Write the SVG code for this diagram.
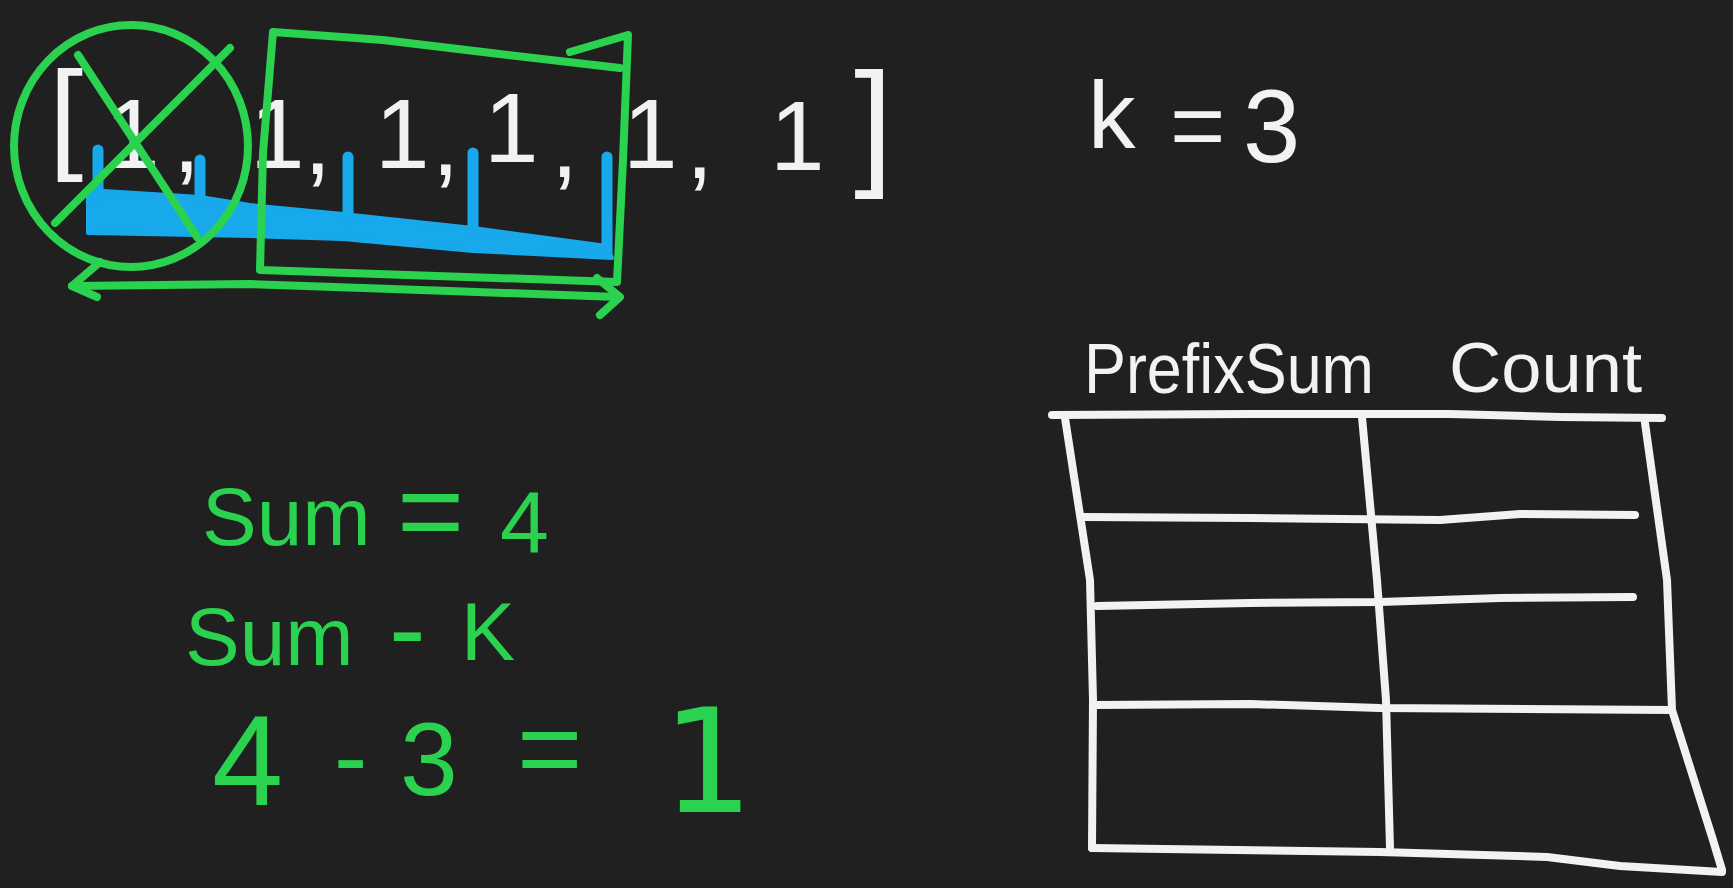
<svg xmlns="http://www.w3.org/2000/svg" width="1733" height="888" viewBox="0 0 1733 888">
<style>
.bg{fill:#202020}
.w{fill:none;stroke:#f2f2f2;stroke-width:8;stroke-linecap:round;stroke-linejoin:round}
.g{fill:none;stroke:#2bd24f;stroke-width:8;stroke-linecap:round;stroke-linejoin:round}
.b{fill:none;stroke:#18a8ec;stroke-width:11;stroke-linecap:round;stroke-linejoin:round}
.bf{fill:#18a8ec;stroke:#18a8ec;stroke-width:4;stroke-linejoin:round}
.wt{fill:#f2f2f2;font-family:"Liberation Sans",Arial,sans-serif}
.gt{fill:#2bd24f;font-family:"Liberation Sans",Arial,sans-serif}
</style>
<rect class="bg" x="0" y="0" width="1733" height="888"/>

<g id="array">
<text class="wt" font-size="98"><tspan x="49" y="157" font-size="123">[</tspan><tspan x="105" y="168">1</tspan><tspan x="173" y="172">,</tspan><tspan x="250" y="168">1</tspan><tspan x="304" y="174">,</tspan><tspan x="375" y="168">1</tspan><tspan x="432" y="175">,</tspan><tspan x="484" y="162">1</tspan><tspan x="551" y="177">,</tspan><tspan x="623" y="168">1</tspan><tspan x="686" y="178">,</tspan><tspan x="770" y="170">1</tspan><tspan x="854" y="170" font-size="140">]</tspan></text>
</g>

<g id="prefix-bracket-blue">
<path class="bf" d="M88,190 L200,197 L250,205 L343,214 L473,228 L607,246 L612,258 L473,251 L343,239 L250,236 L88,233 Z"/>
<path class="b" d="M98,150 L98,197 M200,160 L200,200 M348,157 L348,220 M473,153 L473,233 M607,157 L607,253"/>
</g>

<g id="removed-prefix">
<ellipse class="g" cx="131" cy="146" rx="117" ry="121"/>
<path class="g" d="M55,223 L230,48 M78,55 L197,237"/>
</g>

<g id="window">
<path class="g" d="M620,68 L483,52 L383,40 L273,32 L263,153 L260,270 L617,282 L623,160 L628,35 L570,52"/>
</g>

<g id="connectors">
<path class="g" d="M72,286 L250,284 L450,291 L617,297"/>
<path class="g" d="M100,262 L72,286 L97,297"/>
<path class="g" d="M597,278 L620,297 L600,315"/>
</g>

<g id="k-label">
<text class="wt" font-size="95"><tspan x="1088" y="148">k</tspan><tspan x="1170" y="158">=</tspan><tspan x="1243" y="162" font-size="103">3</tspan></text>
</g>

<g id="table">
<text class="wt" x="1084" y="393" font-size="70" textLength="290" lengthAdjust="spacingAndGlyphs">PrefixSum</text>
<text class="wt" x="1449" y="392" font-size="70" textLength="193" lengthAdjust="spacingAndGlyphs">Count</text>
<path class="w" d="M1052,415 L1250,414 L1450,414 L1560,417 L1662,418"/>
<path class="w" d="M1065,418 L1090,580 L1093,700 L1092,848"/>
<path class="w" d="M1362,417 L1377,580 L1386,700 L1390,848"/>
<path class="w" d="M1645,423 L1667,580 L1672,710 L1713,840 L1722,870"/>
<path class="w" d="M1083,517 L1250,518 L1440,520 L1520,514 L1635,515"/>
<path class="w" d="M1097,606 L1250,603 L1380,602 L1500,598 L1633,597"/>
<path class="w" d="M1095,705 L1250,704 L1380,708 L1670,710"/>
<path class="w" d="M1092,848 L1380,852 L1547,857 L1620,866 L1722,872"/>
</g>

<g id="equations">
<text class="gt" font-size="82"><tspan x="202" y="545">Sum</tspan><tspan x="397" y="550" font-size="115">=</tspan><tspan x="500" y="553" font-size="88">4</tspan></text>
<text class="gt" font-size="82"><tspan x="185" y="665">Sum</tspan><tspan x="389" y="666" font-size="110">-</tspan><tspan x="461" y="660" font-size="81">K</tspan></text>
<text class="gt"><tspan x="212" y="805" font-size="128">4</tspan><tspan x="334" y="791" font-size="100">-</tspan><tspan x="400" y="795" font-size="104">3</tspan><tspan x="517" y="787" font-size="112">=</tspan><tspan x="662" y="812" font-size="144" font-family="DejaVu Sans, sans-serif">1</tspan></text>
</g>
</svg>
